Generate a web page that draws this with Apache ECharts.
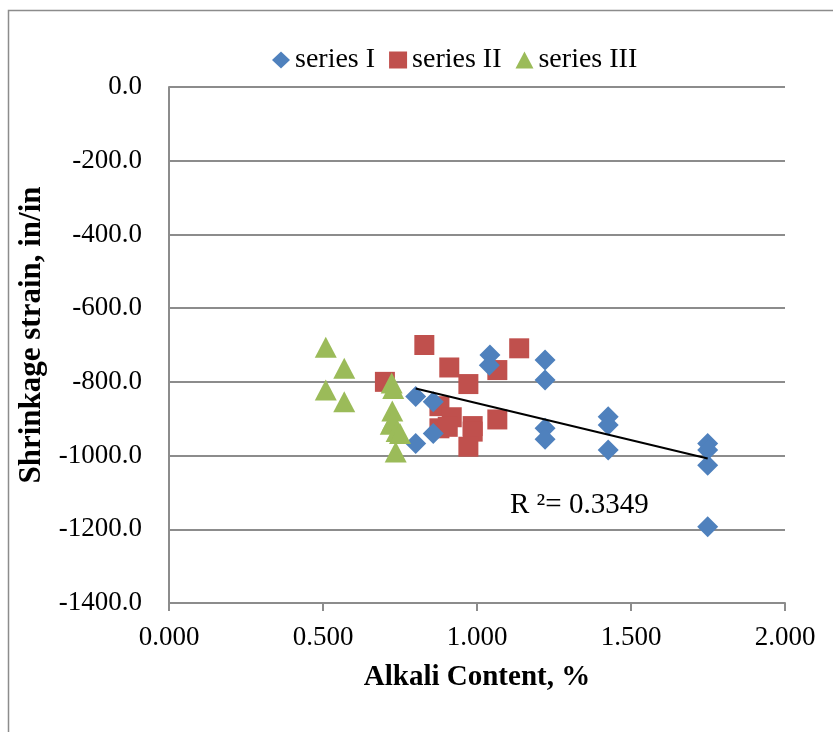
<!DOCTYPE html>
<html>
<head>
<meta charset="utf-8">
<script src="https://cdn.jsdelivr.net/npm/echarts@6/dist/echarts.min.js"></script>
<style>
  html, body { margin: 0; padding: 0; background: #fff; }
  #chart { width: 833px; height: 732px; }
</style>
</head>
<body>
<div id="chart"></div>
<script>
// Alkali content (%) vs. shrinkage strain (in/in)
const seriesI = [
  [0.801, -840], [0.801, -967], [0.858, -854], [0.858, -940],
  [1.042, -727], [1.040, -755], [1.221, -741], [1.221, -795],
  [1.221, -926], [1.221, -956], [1.426, -895], [1.426, -917],
  [1.426, -985], [1.749, -967], [1.749, -985], [1.749, -1026],
  [1.749, -1193]
];
const seriesII = [
  [0.701, -800], [0.829, -700], [0.910, -761], [0.972, -806],
  [1.066, -768], [1.137, -709], [0.878, -866], [0.918, -896],
  [0.878, -926], [0.905, -922], [0.986, -920], [0.986, -935],
  [0.972, -976], [1.066, -902]
];
const seriesIII = [
  [0.509, -706], [0.569, -763], [0.509, -822], [0.569, -854],
  [0.723, -803], [0.728, -818], [0.725, -879], [0.726, -906],
  [0.720, -915], [0.739, -935], [0.750, -940], [0.736, -990]
];
// linear trend through series I, drawn between its end points
const trendLine = [[0.801, -818], [1.749, -1008]];
const rSquaredText = 'R \u00B2= 0.3349';

const xTicks = { min: 0, max: 2, interval: 0.5 };
const yTicks = { min: -1400, max: 0, interval: 200 };

const serif = '"Liberation Serif", "Times New Roman", serif';
const axisGrey = '#8c8c8c';
const chart = echarts.init(document.getElementById('chart'));

chart.setOption({
  animation: false,
  backgroundColor: '#ffffff',
  textStyle: { fontFamily: serif, color: '#000' },
  legend: {
    top: 41,
    left: 267,
    itemGap: 14,
    itemWidth: 18,
    itemHeight: 17,
    textStyle: { fontFamily: serif, fontSize: 28, color: '#000' },
    data: [
      { name: 'series I', icon: 'diamond' },
      { name: 'series II', icon: 'rect' },
      { name: 'series III', icon: 'triangle' }
    ]
  },
  grid: { left: 169, right: 48, top: 87, bottom: 129 },
  xAxis: {
    type: 'value',
    min: xTicks.min, max: xTicks.max, interval: xTicks.interval,
    name: 'Alkali Content, %',
    nameLocation: 'middle',
    nameGap: 60,
    nameTextStyle: { fontFamily: serif, fontSize: 29, fontWeight: 'bold', color: '#000' },
    axisLine: { show: true, onZero: false, lineStyle: { color: axisGrey, width: 2 } },
    axisTick: { show: true, length: 8, inside: false, lineStyle: { color: axisGrey, width: 2 } },
    splitLine: { show: false },
    axisLabel: {
      fontFamily: serif, fontSize: 27, color: '#000', margin: 21,
      formatter: v => v.toFixed(3)
    }
  },
  yAxis: {
    type: 'value',
    min: yTicks.min, max: yTicks.max, interval: yTicks.interval,
    name: 'Shrinkage strain, in/in',
    nameLocation: 'middle',
    nameGap: 119,
    nameTextStyle: {
      fontFamily: serif, fontSize: 31, fontWeight: 'bold', color: '#000',
      padding: [0, 0, 0, 20]
    },
    axisLine: { show: true, onZero: false, lineStyle: { color: axisGrey, width: 2 } },
    axisTick: { show: false },
    splitLine: { show: true, lineStyle: { color: axisGrey, width: 2 } },
    axisLabel: {
      fontFamily: serif, fontSize: 27, color: '#000', margin: 27,
      formatter: v => v.toFixed(1)
    }
  },
  series: [
    {
      name: 'series I', type: 'scatter', data: seriesI,
      symbol: 'diamond', symbolSize: [21, 21],
      itemStyle: { color: '#4f81bd', opacity: 1 }, z: 3
    },
    {
      name: 'series II', type: 'scatter', data: seriesII,
      symbol: 'rect', symbolSize: [20, 20],
      itemStyle: { color: '#c0504d', opacity: 1 }, z: 2
    },
    {
      name: 'series III', type: 'scatter', data: seriesIII,
      symbol: 'triangle', symbolSize: [22, 21],
      itemStyle: { color: '#9bbb59', opacity: 1 }, z: 4
    },
    {
      name: 'trend', type: 'line', data: trendLine,
      symbol: 'none', lineStyle: { color: '#000', width: 2 }, z: 5,
      silent: true
    }
  ],
  graphic: [
    {
      type: 'rect', z: -1,
      shape: { x: 8.5, y: 10.5, width: 830, height: 730 },
      style: { fill: 'none', stroke: axisGrey, lineWidth: 1.5 }
    },
    {
      type: 'text', left: 510, top: 491, z: 10,
      style: { text: rSquaredText, font: '29px ' + serif, fill: '#000' }
    }
  ]
});
</script>
</body>
</html>
